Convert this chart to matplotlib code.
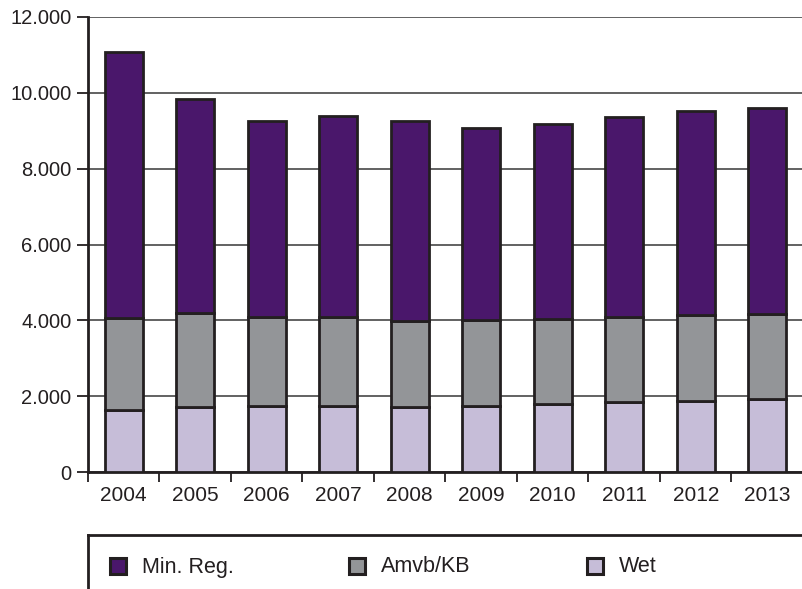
import matplotlib
matplotlib.use('Agg')
import matplotlib.pyplot as plt
from matplotlib.patches import Rectangle
from matplotlib.lines import Line2D
import numpy as np

plt.rcParams['font.family'] = ['Liberation Sans', 'DejaVu Sans']

years = ['2004', '2005', '2006', '2007', '2008', '2009', '2010', '2011', '2012', '2013']
wet = [1640, 1720, 1740, 1740, 1720, 1750, 1800, 1840, 1880, 1930]
amvb_top = [4070, 4200, 4100, 4100, 3990, 4020, 4040, 4080, 4150, 4170]
totals = [11070, 9830, 9250, 9390, 9250, 9080, 9190, 9360, 9510, 9590]

amvb = [a - w for a, w in zip(amvb_top, wet)]
minreg = [t - a for t, a in zip(totals, amvb_top)]

series_names = ['Min. Reg.', 'Amvb/KB', 'Wet']
colors = ['#4a176b', '#939598', '#c6bdd8']
edge = '#231f20'

fig = plt.figure(figsize=(8.03, 5.89), dpi=100)
ax = fig.add_axes([88 / 803, 117 / 589, 715 / 803, 455 / 589])

x = np.arange(len(years))
w = 0.53
ax.bar(x, wet, w, color=colors[2], edgecolor=edge, linewidth=2, zorder=3)
ax.bar(x, amvb, w, bottom=wet, color=colors[1], edgecolor=edge, linewidth=2, zorder=3)
ax.bar(x, minreg, w, bottom=amvb_top, color=colors[0], edgecolor=edge, linewidth=2, zorder=3)

ax.set_xlim(-0.5, len(years) - 0.5)
ax.set_ylim(0, 12000)
yt = np.arange(0, 12001, 2000)
ax.set_yticks(yt)
ax.set_yticklabels([f'{v:,}'.replace(',', '.') for v in yt], fontsize=14.5, color='#231f20')
ax.yaxis.grid(True, color='#555555', linewidth=1.3, zorder=1)
ax.tick_params(axis='y', length=8, width=1.3, color='#231f20', pad=4)

ax.set_xticks(x)
ax.set_xticklabels(years, fontsize=15, color='#231f20')
ax.set_xticks(np.arange(-0.5, len(years) - 0.5, 1), minor=True)
ax.tick_params(axis='x', which='major', length=0, pad=10)
ax.tick_params(axis='x', which='minor', length=7, width=1.3, color='#231f20')

for s in ['top', 'right']:
    ax.spines[s].set_visible(False)
for s in ['left', 'bottom']:
    ax.spines[s].set_linewidth(2)
    ax.spines[s].set_color('#231f20')

# legend box
fig.add_artist(Line2D([88 / 803, 1], [1 - 535 / 589] * 2, transform=fig.transFigure,
                      color='#231f20', linewidth=2))
fig.add_artist(Line2D([88 / 803] * 2, [1 - 535 / 589, 0], transform=fig.transFigure,
                      color='#231f20', linewidth=2))
sq_x = [110, 349, 587]
for i, name in enumerate(series_names):
    fig.add_artist(Rectangle((sq_x[i] / 803, 1 - 574 / 589), 16 / 803, 16 / 589,
                             transform=fig.transFigure, facecolor=colors[i],
                             edgecolor=edge, linewidth=2.2))
    fig.text((sq_x[i] + 32) / 803, 1 - 567 / 589, name, fontsize=15.5,
             color='#231f20', va='center', ha='left')

fig.savefig('out.png', dpi=100)
